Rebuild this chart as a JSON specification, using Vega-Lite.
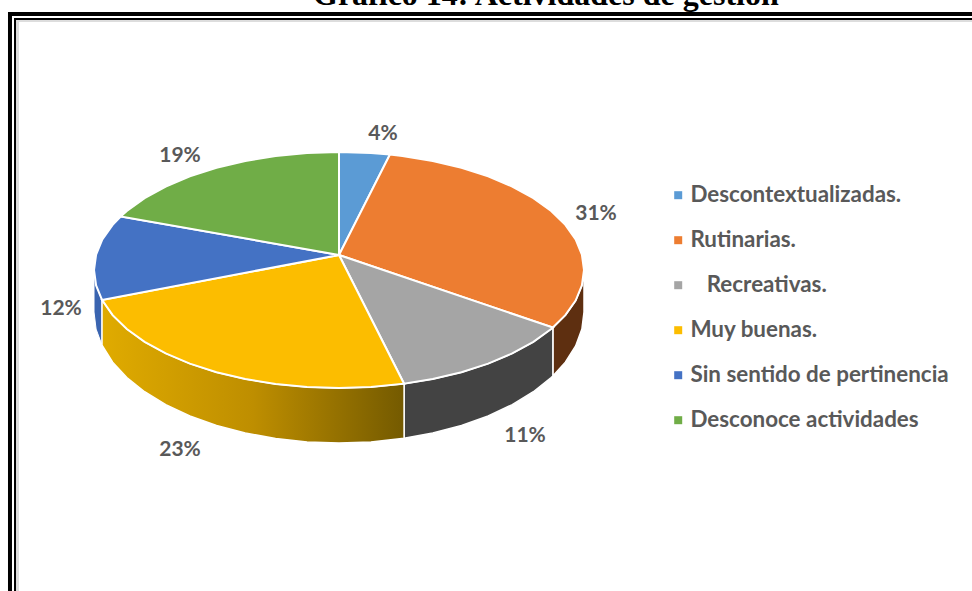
{
"$schema":"https://vega.github.io/schema/vega-lite/v6.json",
"width":972,"height":591,"padding":0,"autosize":{"type":"none"},"background":"white",
"view":{"stroke":null},
"projection":{"type":"identity","reflectY":true,"scale":245,"translate":[339,255]},
"datasets":{
"slices":[
{"type":"Feature","properties":{"name":"Descontextualizadas.","pct":4},"geometry":{"type":"Polygon","coordinates":[[[0,0],[0,0.4204],[0.1305,0.4163],[0.2079,0.4099],[0,0]]]}},
{"type":"Feature","properties":{"name":"Rutinarias.","pct":31},"geometry":{"type":"Polygon","coordinates":[[[0,0],[0.2079,0.4099],[0.2588,0.404],[0.3827,0.3837],[0.5,0.3559],[0.6088,0.3209],[0.7071,0.2793],[0.7934,0.232],[0.866,0.1796],[0.9239,0.1231],[0.9659,0.0634],[0.9914,0.0016],[1,-0.0612],[0.9914,-0.124],[0.9659,-0.1858],[0.9239,-0.2455],[0.8729,-0.2962],[0,0]]]}},
{"type":"Feature","properties":{"name":"\u200b\u00a0\u00a0\u00a0Recreativas.","pct":11},"geometry":{"type":"Polygon","coordinates":[[[0,0],[0.8729,-0.2962],[0.866,-0.302],[0.7934,-0.3544],[0.7071,-0.4017],[0.6088,-0.4433],[0.5,-0.4783],[0.3827,-0.5061],[0.2656,-0.5255],[0,0]]]}},
{"type":"Feature","properties":{"name":"Muy buenas.","pct":23},"geometry":{"type":"Polygon","coordinates":[[[0,0],[0.2656,-0.5255],[0.1305,-0.5387],[0,-0.5428],[-0.1305,-0.5387],[-0.2588,-0.5264],[-0.3827,-0.5061],[-0.5,-0.4783],[-0.6088,-0.4433],[-0.7071,-0.4017],[-0.7934,-0.3544],[-0.866,-0.302],[-0.9239,-0.2455],[-0.9673,-0.1834],[0,0]]]}},
{"type":"Feature","properties":{"name":"Sin sentido de pertinencia","pct":12},"geometry":{"type":"Polygon","coordinates":[[[0,0],[-0.9673,-0.1834],[-0.9914,-0.124],[-1,-0.0612],[-0.9914,0.0016],[-0.9659,0.0634],[-0.9239,0.1231],[-0.891,0.1574],[0,0]]]}},
{"type":"Feature","properties":{"name":"Desconoce actividades","pct":19},"geometry":{"type":"Polygon","coordinates":[[[0,0],[-0.891,0.1574],[-0.866,0.1796],[-0.7934,0.232],[-0.7071,0.2793],[-0.6088,0.3209],[-0.5,0.3559],[-0.3827,0.3837],[-0.2588,0.404],[-0.1305,0.4163],[0,0.4204],[0,0]]]}}
],
"wallOrange":[{"type":"Feature","properties":{"name":"Rutinarias."},"geometry":{"type":"Polygon","coordinates":[[[1,-0.0612],[0.9914,-0.124],[0.9659,-0.1858],[0.9239,-0.2455],[0.8729,-0.2962],[0.8729,-0.4936],[0.9239,-0.4373],[0.9659,-0.3711],[0.9914,-0.3025],[1,-0.2327],[1,-0.0612]]]}}],
"wallGrey":[{"type":"Feature","properties":{"name":"Recreativas."},"geometry":{"type":"Polygon","coordinates":[[[0.8729,-0.2962],[0.866,-0.302],[0.7934,-0.3544],[0.7071,-0.4017],[0.6088,-0.4433],[0.5,-0.4783],[0.3827,-0.5061],[0.2656,-0.5255],[0.2656,-0.7482],[0.3827,-0.7267],[0.5,-0.6958],[0.6088,-0.6569],[0.7071,-0.6108],[0.7934,-0.5582],[0.866,-0.5001],[0.8729,-0.4936],[0.8729,-0.2962]]]}}],
"wallYellow":[{"type":"Feature","properties":{"name":"Muy buenas."},"geometry":{"type":"Polygon","coordinates":[[[0.2656,-0.5255],[0.1305,-0.5387],[0,-0.5428],[-0.1305,-0.5387],[-0.2588,-0.5264],[-0.3827,-0.5061],[-0.5,-0.4783],[-0.6088,-0.4433],[-0.7071,-0.4017],[-0.7934,-0.3544],[-0.866,-0.302],[-0.9239,-0.2455],[-0.9673,-0.1834],[-0.9673,-0.3684],[-0.9239,-0.4373],[-0.866,-0.5001],[-0.7934,-0.5582],[-0.7071,-0.6108],[-0.6088,-0.6569],[-0.5,-0.6958],[-0.3827,-0.7267],[-0.2588,-0.7492],[-0.1305,-0.7628],[0,-0.7674],[0.1305,-0.7628],[0.2656,-0.7482],[0.2656,-0.5255]]]}}],
"wallBlue":[{"type":"Feature","properties":{"name":"Sin sentido de pertinencia"},"geometry":{"type":"Polygon","coordinates":[[[-0.9673,-0.1834],[-0.9914,-0.124],[-1,-0.0612],[-1,-0.2327],[-0.9914,-0.3025],[-0.9673,-0.3684],[-0.9673,-0.1834]]]}}],
"frameOuter":[{"type":"Feature","properties":{},"geometry":{"type":"LineString","coordinates":[[-1.3429,-1.4082],[-1.3429,0.9837],[2.5959,0.9837]]}}],
"frameInner":[{"type":"Feature","properties":{},"geometry":{"type":"LineString","coordinates":[[-1.3224,-1.4082],[-1.3224,0.9633],[2.5959,0.9633]]}}],
"frameShade":[{"type":"Feature","properties":{},"geometry":{"type":"LineString","coordinates":[[-1.3122,-1.4082],[-1.3122,0.9571],[2.5959,0.9571]]}}],
"heading":[{"label":"Gráfico 14: Actividades de gestión","lon":-0.1061,"lat":1.0204}],
"labels":[
{"label":"4%","lon":0.1796,"lat":0.494},
{"label":"31%","lon":1.049,"lat":0.1673},
{"label":"11%","lon":0.7592,"lat":-0.7388},
{"label":"23%","lon":-0.649,"lat":-0.7959},
{"label":"12%","lon":-1.1347,"lat":-0.2204},
{"label":"19%","lon":-0.649,"lat":0.4041}
]
},
"layer":[
{"data":{"name":"frameShade"},"mark":{"type":"geoshape","filled":false,"stroke":"#dddddd","strokeWidth":3,"fill":null},"encoding":{}},
{"data":{"name":"frameOuter"},"mark":{"type":"geoshape","filled":false,"stroke":"#000000","strokeWidth":4,"fill":null},"encoding":{}},
{"data":{"name":"frameInner"},"mark":{"type":"geoshape","filled":false,"stroke":"#000000","strokeWidth":2,"fill":null},"encoding":{}},
{"data":{"name":"heading"},"mark":{"type":"text","font":"Liberation Serif","fontSize":32,"fontWeight":"bold","color":"#000000","align":"left","baseline":"alphabetic"},
"encoding":{"longitude":{"field":"lon","type":"quantitative"},"latitude":{"field":"lat","type":"quantitative"},"text":{"field":"label","type":"nominal"}}},
{"data":{"name":"wallOrange"},"mark":{"type":"geoshape","fill":"#5E2F10","stroke":"#ffffff","strokeWidth":1.5},"encoding":{}},
{"data":{"name":"wallGrey"},"mark":{"type":"geoshape","fill":"#434343","stroke":"#ffffff","strokeWidth":1.5},"encoding":{}},
{"data":{"name":"wallBlue"},"mark":{"type":"geoshape","fill":"#3A64B0","stroke":"#ffffff","strokeWidth":1},"encoding":{}},
{"data":{"name":"wallYellow"},"mark":{"type":"geoshape","stroke":"#ffffff","strokeWidth":1.5,"fill":{"gradient":"linear","x1":0,"y1":0,"x2":1,"y2":0,"stops":[{"offset":0,"color":"#E0AB00"},{"offset":0.5,"color":"#BE8E00"},{"offset":1,"color":"#745A00"}]}},"encoding":{}},
{"data":{"name":"slices"},"mark":{"type":"geoshape","stroke":"#ffffff","strokeWidth":2},
"encoding":{"color":{"field":"properties.name","type":"nominal",
"scale":{"domain":["Descontextualizadas.","Rutinarias.","\u200b\u00a0\u00a0\u00a0Recreativas.","Muy buenas.","Sin sentido de pertinencia","Desconoce actividades"],"range":["#5B9BD5","#ED7D31","#A5A5A5","#FCBD00","#4472C4","#70AD47"]},
"legend":{"title":null,"orient":"none","legendX":667,"legendY":184,"symbolType":"square","symbolSize":64,"symbolStrokeWidth":0,"labelFont":"Lato","labelFontSize":22.4,"labelFontWeight":"bold","labelColor":"#595959","rowPadding":22,"labelOffset":1,"labelLimit":320}}}},
{"data":{"name":"labels"},"mark":{"type":"text","font":"Lato","fontSize":21,"fontWeight":"bold","color":"#595959","align":"center","baseline":"middle"},
"encoding":{"longitude":{"field":"lon","type":"quantitative"},"latitude":{"field":"lat","type":"quantitative"},"text":{"field":"label","type":"nominal"}}}
]
}
